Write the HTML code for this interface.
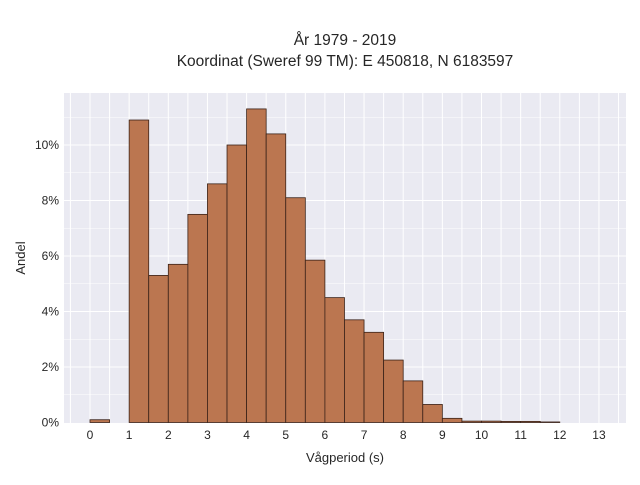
<!DOCTYPE html>
<html><head><meta charset="utf-8"><style>
body{margin:0;background:#fff;font-family:"Liberation Sans",sans-serif;}
svg text{font-family:"Liberation Sans",sans-serif;fill:#262626;}
</style></head><body>
<svg id="chart" width="640" height="480" xmlns="http://www.w3.org/2000/svg">
<text x="345" y="45" font-size="15.5" text-anchor="middle">År 1979 - 2019</text>
<text x="345" y="66" font-size="15.5" text-anchor="middle">Koordinat (Sweref 99 TM): E 450818, N 6183597</text>
<rect x="64" y="93" width="562" height="330" fill="#eaeaf2"/>
<g id="grid"></g><g id="bars"></g><g id="axes"></g>
<text x="345" y="462" font-size="13" text-anchor="middle">Vågperiod (s)</text>
<text transform="translate(25,258) rotate(-90)" font-size="13" text-anchor="middle">Andel</text>
</svg>
<script>
const binStarts=[0,0.5,1,1.5,2,2.5,3,3.5,4,4.5,5,5.5,6,6.5,7,7.5,8,8.5,9,9.5,10,10.5,11,11.5];
const shares=[0.1,0,10.9,5.3,5.7,7.5,8.6,10.0,11.3,10.4,8.1,5.85,4.5,3.7,3.25,2.25,1.5,0.65,0.15,0.05,0.05,0.04,0.04,0.02];
const xTicks=[0,1,2,3,4,5,6,7,8,9,10,11,12,13];
const yTicks=[0,2,4,6,8,10];
const binWidth=0.5;
const NS="http://www.w3.org/2000/svg";
const X=v=>90+v*39.15;
const Y=v=>422.5-v*27.75;
const grid=document.getElementById('grid'),bars=document.getElementById('bars'),axes=document.getElementById('axes');
for(let v=-0.5;v<=13.5;v+=0.5){
 const l=document.createElementNS(NS,'line');
 l.setAttribute('x1',X(v));l.setAttribute('x2',X(v));l.setAttribute('y1',93);l.setAttribute('y2',423);
 l.setAttribute('stroke','#fff');l.setAttribute('stroke-width','1');
 
 
 grid.appendChild(l);
}
for(let v=1;v<=11;v++){
 const l=document.createElementNS(NS,'line');
 l.setAttribute('x1',64);l.setAttribute('x2',626);l.setAttribute('y1',Y(v));l.setAttribute('y2',Y(v));
 l.setAttribute('stroke','#fff');l.setAttribute('stroke-width',v%2?0.6:1);
 
 
 grid.appendChild(l);
}
shares.forEach((s,i)=>{
 if(s<=0)return;
 const r=document.createElementNS(NS,'rect');
 const x0=X(binStarts[i]),x1=X(binStarts[i]+binWidth);
 r.setAttribute('x',x0);r.setAttribute('width',x1-x0);
 r.setAttribute('y',Y(s));r.setAttribute('height',Y(0)-Y(s));
 r.setAttribute('fill','#bb7650');r.setAttribute('stroke','#3a2218');r.setAttribute('stroke-width','0.8');
 
 
 bars.appendChild(r);
});
xTicks.forEach(t=>{
 const tx=document.createElementNS(NS,'text');
 tx.setAttribute('x',X(t));tx.setAttribute('y',439);tx.setAttribute('font-size','12');tx.setAttribute('text-anchor','middle');
 tx.textContent=t;
 
 
 axes.appendChild(tx);
});
yTicks.forEach(t=>{
 const tx=document.createElementNS(NS,'text');
 tx.setAttribute('x',59);tx.setAttribute('y',Y(t)+4);tx.setAttribute('font-size','12');tx.setAttribute('text-anchor','end');
 tx.textContent=t+'%';
 
 
 axes.appendChild(tx);
});
</script>
</body></html>
